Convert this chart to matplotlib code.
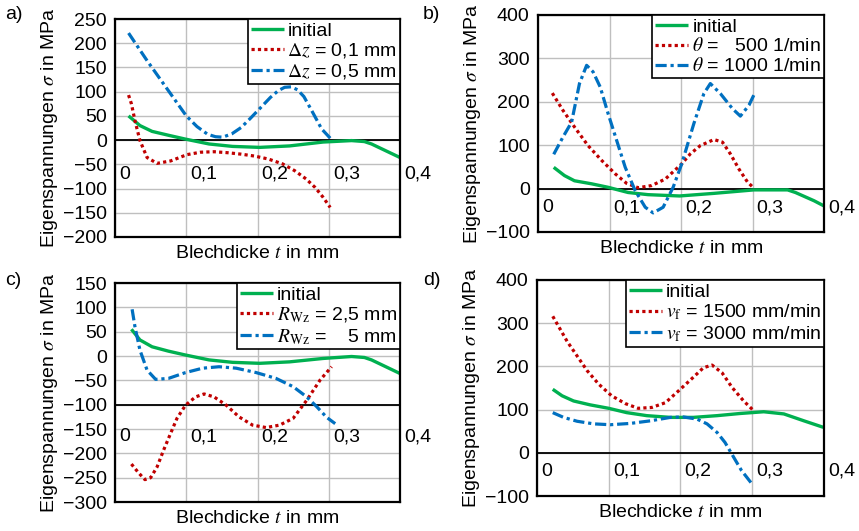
import matplotlib
matplotlib.use("Agg")
import matplotlib.pyplot as plt
import matplotlib.transforms as mtransforms

plt.rcParams['font.family'] = ['Liberation Sans', 'DejaVu Sans']
plt.rcParams['mathtext.fontset'] = 'stix'

GREEN = '#00B050'
RED = '#C00000'
BLUE = '#0070C0'

# a) feed depth
a_init_x = [0.019, 0.035, 0.052, 0.075, 0.099, 0.132, 0.165, 0.203, 0.245, 0.292, 0.332, 0.35, 0.36, 0.38, 0.4]
a_init_y = [50, 30, 18, 10, 2, -8, -13, -15, -12, -4, -1, -3, -8, -22, -36]
a_dz01_x = [0.019, 0.023, 0.028, 0.035, 0.045, 0.059, 0.078, 0.101, 0.12, 0.139, 0.158, 0.177, 0.196,
            0.215, 0.235, 0.252, 0.268, 0.281, 0.292, 0.302]
a_dz01_y = [93, 75, 40, -1, -36, -48, -43, -30, -25, -24, -26, -29, -33, -39, -49, -63, -80, -98, -118, -139]
a_dz05_x = [0.019, 0.045, 0.073, 0.1, 0.115, 0.13, 0.141, 0.151, 0.164, 0.177, 0.19, 0.205, 0.218, 0.229,
            0.238, 0.247, 0.256, 0.265, 0.276, 0.29, 0.302]
a_dz05_y = [221, 164, 106, 50, 28, 12, 7, 6, 13, 26, 45, 68, 88, 102, 109, 110, 104, 90, 61, 23, 4]

# b) spindle speed
b_init_x = [0.022, 0.037, 0.051, 0.075, 0.098, 0.126, 0.154, 0.198, 0.246, 0.302, 0.349, 0.36, 0.386, 0.4]
b_init_y = [49, 30, 18, 11, 3, -9, -14, -17, -11, -3, -3, -9, -28, -40]
b_500_x = [0.020, 0.035, 0.051, 0.070, 0.089, 0.108, 0.124, 0.140, 0.159, 0.178, 0.201, 0.213, 0.227,
           0.246, 0.258, 0.269, 0.281, 0.293, 0.302]
b_500_y = [220, 180, 142, 99, 65, 34, 12, 2, 7, 22, 57, 80, 99, 113, 107, 80, 45, 15, 1]
b_1000_x = [0.022, 0.035, 0.047, 0.058, 0.068, 0.077, 0.087, 0.098, 0.110, 0.122, 0.136, 0.150, 0.161,
            0.175, 0.189, 0.201, 0.218, 0.232, 0.241, 0.255, 0.272, 0.283, 0.295, 0.304]
b_1000_y = [79, 119, 153, 242, 284, 269, 234, 173, 111, 49, -5, -43, -56, -43, 3, 57, 150, 219, 242,
            219, 184, 167, 192, 223]

# c) tool radius
c_init_x = [0.023, 0.035, 0.052, 0.075, 0.099, 0.132, 0.165, 0.203, 0.245, 0.292, 0.332, 0.35, 0.36, 0.38, 0.4]
c_init_y = [55, 33, 19, 10, 2, -8, -13, -15, -12, -5, -1, -3, -8, -22, -36]
c_r25_x = [0.023, 0.033, 0.042, 0.050, 0.059, 0.068, 0.078, 0.087, 0.099, 0.113, 0.125, 0.139, 0.156,
           0.174, 0.193, 0.212, 0.231, 0.250, 0.269, 0.288, 0.304]
c_r25_y = [-222, -240, -254, -250, -228, -194, -159, -128, -101, -84, -78, -84, -101, -125, -142, -147,
           -142, -128, -91, -49, -22]
c_r5_x = [0.024, 0.028, 0.035, 0.045, 0.057, 0.075, 0.099, 0.123, 0.146, 0.170, 0.198, 0.226, 0.250,
          0.269, 0.283, 0.297, 0.309]
c_r5_y = [96, 60, 12, -29, -48, -46, -34, -25, -22, -25, -34, -46, -63, -84, -104, -126, -139]

# d) feed rate
d_init_x = [0.022, 0.035, 0.051, 0.074, 0.100, 0.125, 0.153, 0.186, 0.218, 0.251, 0.283, 0.316, 0.344,
            0.372, 0.399]
d_init_y = [147, 132, 120, 111, 103, 93, 86, 82, 82, 86, 91, 95, 90, 74, 59]
d_1500_x = [0.022, 0.030, 0.042, 0.056, 0.070, 0.086, 0.104, 0.123, 0.141, 0.160, 0.179, 0.197, 0.216,
            0.232, 0.244, 0.258, 0.272, 0.288, 0.301]
d_1500_y = [316, 293, 258, 224, 190, 159, 132, 114, 103, 105, 116, 143, 172, 197, 203, 185, 151, 120, 99]
d_3000_x = [0.022, 0.037, 0.056, 0.079, 0.102, 0.130, 0.158, 0.186, 0.204, 0.223, 0.237, 0.251, 0.262,
            0.274, 0.285, 0.301]
d_3000_y = [93, 82, 73, 67, 65, 68, 74, 82, 83, 78, 67, 47, 24, -10, -41, -75]

x_ticks = [0, 0.1, 0.2, 0.3, 0.4]
x_tick_labels = ['0', '0,1', '0,2', '0,3', '0,4']

panels = [
    dict(tag='a)', rect=[0.1339, 0.5537, 0.3318, 0.4105], ylim=(-200, 250), ystep=50,
         cross=0, label_y=-71, fig_tag=(0.006, 0.972),
         series=[(a_init_x, a_init_y, 'initial'),
                 (a_dz01_x, a_dz01_y, r'$\Delta z$ = 0,1 mm'),
                 (a_dz05_x, a_dz05_y, r'$\Delta z$ = 0,5 mm')]),
    dict(tag='b)', rect=[0.6263, 0.5631, 0.3330, 0.4087], ylim=(-100, 400), ystep=100,
         cross=0, label_y=-44, fig_tag=(0.492, 0.972),
         series=[(b_init_x, b_init_y, 'initial'),
                 (b_500_x, b_500_y, r'$\theta$ =   500 1/min'),
                 (b_1000_x, b_1000_y, r'$\theta$ = 1000 1/min')]),
    dict(tag='c)', rect=[0.1339, 0.0546, 0.3318, 0.4124], ylim=(-300, 150), ystep=50,
         cross=-100, label_y=-166, fig_tag=(0.006, 0.472),
         series=[(c_init_x, c_init_y, 'initial'),
                 (c_r25_x, c_r25_y, r'$R_{\mathrm{Wz}}$ = 2,5 mm'),
                 (c_r5_x, c_r5_y, r'$R_{\mathrm{Wz}}$ =    5 mm')]),
    dict(tag='d)', rect=[0.6251, 0.0659, 0.3342, 0.4068], ylim=(-100, 400), ystep=100,
         cross=0, label_y=-43, fig_tag=(0.492, 0.472),
         series=[(d_init_x, d_init_y, 'initial'),
                 (d_1500_x, d_1500_y, r'$v_{\mathrm{f}}$ = 1500 mm/min'),
                 (d_3000_x, d_3000_y, r'$v_{\mathrm{f}}$ = 3000 mm/min')]),
]

styles = [
    dict(color=GREEN, lw=2.4, ls='-'),
    dict(color=RED, lw=2.3, ls=(0, (1, 1))),
    dict(color=BLUE, lw=2.3, ls=(0, (3.5, 1.2, 1, 1.2))),
]

FS = 14

fig = plt.figure(figsize=(8.59, 5.31), dpi=100)

for p in panels:
    ax = fig.add_axes(p['rect'])
    ax.set_xlim(0, 0.4)
    ax.set_ylim(*p['ylim'])
    ax.set_xticks(x_ticks)
    ax.set_yticks(range(p['ylim'][0], p['ylim'][1] + 1, p['ystep']))
    ax.grid(True, color='#BFBFBF', lw=1.0)
    ax.set_axisbelow(True)
    ax.tick_params(axis='x', length=0, labelbottom=False)
    ax.tick_params(axis='y', length=0, labelsize=FS, pad=6)
    for s in ax.spines.values():
        s.set_linewidth(1.6)
        s.set_color('black')
    ax.axhline(p['cross'], color='black', lw=1.3, zorder=1.5)

    off = mtransforms.ScaledTranslation(3 / 72, 0, fig.dpi_scale_trans)
    for xt, lab in zip(x_ticks, x_tick_labels):
        ax.text(xt, p['label_y'], lab, fontsize=FS, ha='left', va='center',
                transform=ax.transData + off, clip_on=False)

    for (xs, ys, lab), st in zip(p['series'], styles):
        ax.plot(xs, ys, color=st['color'], lw=st['lw'], ls=st['ls'], label=lab,
                solid_capstyle='butt', dash_capstyle='butt', solid_joinstyle='round',
                clip_on=False)
    leg = ax.legend(loc='upper right', fontsize=FS, frameon=True, fancybox=False,
                    borderaxespad=0, handlelength=1.7, handletextpad=0.2,
                    labelspacing=0.1, borderpad=0.15)
    leg.get_frame().set_edgecolor('black')
    leg.get_frame().set_linewidth(1.2)
    leg.get_frame().set_alpha(1)

    ax.set_xlabel('Blechdicke $t$ in mm', fontsize=FS, labelpad=6)
    ax.set_ylabel(r'Eigenspannungen $\sigma$ in MPa', fontsize=FS, labelpad=2)
    fig.text(p['fig_tag'][0], p['fig_tag'][1], p['tag'], fontsize=FS, va='center', ha='left')

fig.savefig('out.png', dpi=100)
